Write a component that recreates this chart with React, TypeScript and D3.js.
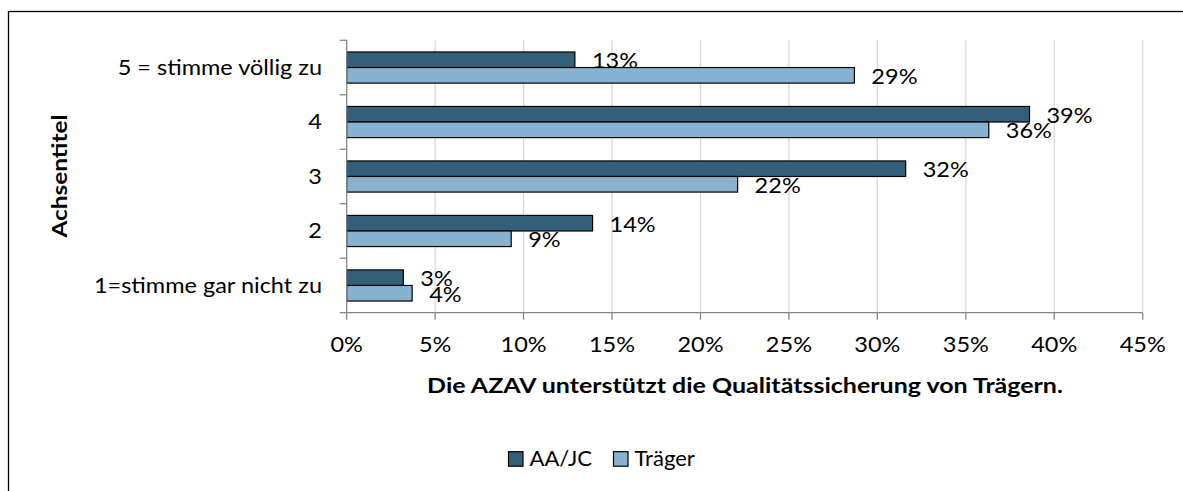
import React from "react";
import * as d3 from "d3";

const categories = ["5 = stimme völlig zu", "4", "3", "2", "1=stimme gar nicht zu"];
const seriesNames = ["AA/JC", "Träger"];
const aajc = [12.9, 38.6, 31.6, 13.9, 3.2];
const traeger = [28.7, 36.3, 22.1, 9.3, 3.7];
const aajcLabels = ["13%", "39%", "32%", "14%", "3%"];
const traegerLabels = ["29%", "36%", "22%", "9%", "4%"];
const xTicks = [0, 5, 10, 15, 20, 25, 30, 35, 40, 45];
const xTitle = "Die AZAV unterstützt die Qualitätssicherung von Trägern.";
const yTitle = "Achsentitel";

const W = 1183;
const H = 491;
const colors = ["#345f7a", "#87b3d0"];
const FONT = "Lato, 'Open Sans', sans-serif";
const FS = 21;
const SX = 1.12;

type TProps = {
  x: number;
  y: number;
  anchor?: "start" | "middle" | "end";
  size?: number;
  sx?: number;
  bold?: boolean;
  rotate?: number;
  children: React.ReactNode;
};

function T({ x, y, anchor = "start", size = FS, sx = SX, bold = false, rotate = 0, children }: TProps) {
  return (
    <g transform={`translate(${x},${y}) rotate(${rotate}) scale(${sx},1)`}>
      <text x={0} y={0} dy="0.35em" textAnchor={anchor} fontSize={size} fontWeight={bold ? "bold" : "normal"} fill="#000">
        {children}
      </text>
    </g>
  );
}

export default function App() {
  const left = 346.7, right = 1142.7, top = 40.3, bottom = 312.7;
  const x = d3.scaleLinear().domain([0, 45]).range([left, right]);
  const y = d3.scaleBand<string>().domain(categories).range([top, bottom]).padding(0);
  const bw = y.bandwidth();
  const t = bw / 3.5;
  const series = [aajc, traeger];
  const labels = [aajcLabels, traegerLabels];

  return (
    <div style={{ position: "absolute", left: 0, top: 0 }}>
      <svg width={W} height={H} style={{ display: "block", fontFamily: FONT }}>
        <rect x={0} y={0} width={W} height={H} fill="#fff" />
        <rect x={8.5} y={11.5} width={1300} height={600} fill="none" stroke="#000" strokeWidth={1.3} />
        {xTicks.slice(1).map((v) => (
          <line key={"g" + v} x1={x(v)} x2={x(v)} y1={top} y2={bottom} stroke="#d9d9d9" strokeWidth={1.3} />
        ))}
        {categories.map((c, i) => {
          const c0 = (y(c) as number) + bw / 2 - t;
          return (
            <g key={c}>
              {series.map((s, k) => (
                <rect
                  key={k}
                  x={x(0)}
                  y={c0 + k * t}
                  width={x(s[i]) - x(0)}
                  height={t}
                  fill={colors[k]}
                  stroke="#000"
                  strokeWidth={1.2}
                />
              ))}
              {series.map((s, k) => (
                <T key={"l" + k} x={x(s[i]) + 17} y={c0 + k * t + t / 2 + 1}>
                  {labels[k][i]}
                </T>
              ))}
            </g>
          );
        })}
        <line x1={left} x2={left} y1={top} y2={bottom} stroke="#868686" strokeWidth={1.3} />
        {d3.range(categories.length + 1).map((i) => {
          const yy = top + i * bw;
          return <line key={"yt" + i} x1={left - 7} x2={left} y1={yy} y2={yy} stroke="#868686" strokeWidth={1.3} />;
        })}
        {categories.map((c) => (
          <T key={"yl" + c} x={322} y={(y(c) as number) + bw / 2} anchor="end">
            {c}
          </T>
        ))}
        <line x1={left} x2={right} y1={bottom} y2={bottom} stroke="#868686" strokeWidth={1.3} />
        {xTicks.map((v) => (
          <g key={"xt" + v}>
            <line x1={x(v)} x2={x(v)} y1={bottom} y2={bottom + 7} stroke="#868686" strokeWidth={1.3} />
            <T x={x(v)} y={bottom + 32} anchor="middle">
              {v}%
            </T>
          </g>
        ))}
        <T x={745} y={386} anchor="middle" size={20} sx={1.25} bold>
          {xTitle}
        </T>
        <T x={60} y={176} anchor="middle" size={20} sx={1.22} bold rotate={-90}>
          {yTitle}
        </T>
        {seriesNames.map((n, k) => {
          const lx = [508.5, 613.5][k];
          return (
            <g key={"lg" + n}>
              <rect x={lx} y={451.7} width={14.5} height={14.5} fill={colors[k]} stroke="#000" strokeWidth={1.2} />
              <T x={lx + 21} y={459} sx={1.05}>
                {n}
              </T>
            </g>
          );
        })}
      </svg>
    </div>
  );
}
